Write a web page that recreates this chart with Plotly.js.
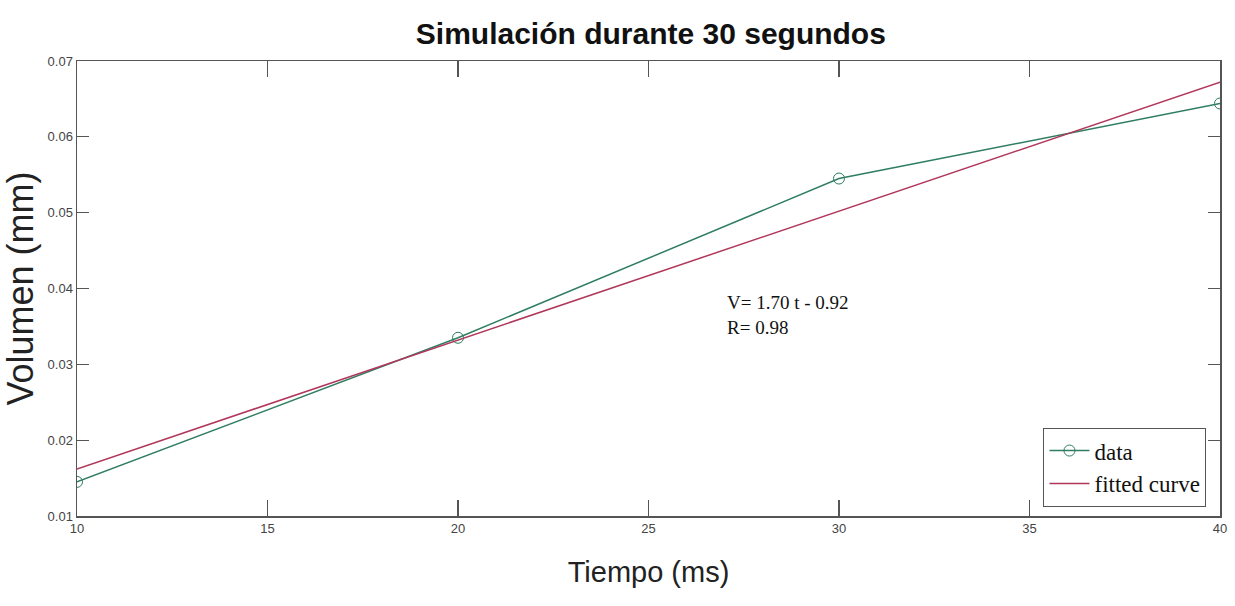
<!DOCTYPE html>
<html>
<head>
<meta charset="utf-8">
<script src="https://cdn.plot.ly/plotly-3.0.1.min.js"></script>
<style>html,body{margin:0;padding:0;background:#fff;}#chart{width:1235px;height:606px;}</style>
</head>
<body>
<div id="chart"></div>
<script>
// Data
const timeMs = [10, 20, 30, 40];
const volumeMm = [0.0145, 0.0335, 0.0545, 0.0644];
const fitTime = [10, 40];
const fitVolume = [0.0162, 0.0672];
const xTicks = [10, 15, 20, 25, 30, 35, 40];
const yTicks = [0.01, 0.02, 0.03, 0.04, 0.05, 0.06, 0.07];
const yTickLabels = ['0.01', '0.02', '0.03', '0.04', '0.05', '0.06', '0.07'];
const equationText = 'V= 1.70 t - 0.92<br>R= 0.98';

const sans = '"Liberation Sans", Arial, sans-serif';
const serif = '"Liberation Serif", "Times New Roman", serif';

const traces = [
  {
    x: timeMs, y: volumeMm, name: 'data', type: 'scatter', mode: 'lines+markers',
    line: {color: '#2f7d62', width: 1.5},
    marker: {symbol: 'circle-open', size: 11, color: '#2f7d62', line: {width: 1}}
  },
  {
    x: fitTime, y: fitVolume, name: 'fitted curve', type: 'scatter', mode: 'lines',
    line: {color: '#b0375a', width: 1.5}
  }
];

const axisCommon = {
  showgrid: false, zeroline: false, showline: true, linecolor: '#555', linewidth: 1.5,
  mirror: 'ticks', ticks: 'inside', tickcolor: '#555', tickwidth: 1.2,
  tickfont: {family: sans, size: 13, color: '#444'}
};

const layout = {
  width: 1235, height: 606,
  paper_bgcolor: '#fff', plot_bgcolor: '#fff',
  margin: {l: 77, r: 15, t: 61, b: 90},
  showlegend: true,
  title: {
    text: '<b>Simulación durante 30 segundos</b>',
    font: {family: sans, size: 30, color: '#111'},
    x: 0.527, xanchor: 'center', y: 0.945, yanchor: 'middle', yref: 'container'
  },
  xaxis: Object.assign({}, axisCommon, {
    range: [10, 40], tickvals: xTicks, ticklen: 16,
    title: {text: 'Tiempo (ms)', font: {family: sans, size: 29, color: '#222'}, standoff: 26}
  }),
  yaxis: Object.assign({}, axisCommon, {
    range: [0.01, 0.07], tickvals: yTicks, ticktext: yTickLabels, ticklen: 12,
    title: {text: 'Volumen (mm)', font: {family: sans, size: 36, color: '#222'}, standoff: 10}
  }),
  legend: {
    x: 0.988, xanchor: 'right', y: 0.02, yanchor: 'bottom',
    bgcolor: '#fff', bordercolor: '#555', borderwidth: 1.2,
    font: {family: serif, size: 23, color: '#111'},
    itemwidth: 40, tracegroupgap: 0
  },
  annotations: [{
    x: 27.0, y: 0.0365, xref: 'x', yref: 'y', text: equationText, showarrow: false,
    xanchor: 'left', yanchor: 'middle', align: 'left',
    font: {family: serif, size: 19, color: '#111'}
  }]
};

Plotly.newPlot('chart', traces, layout, {displayModeBar: false, staticPlot: true});
</script>
</body>
</html>
